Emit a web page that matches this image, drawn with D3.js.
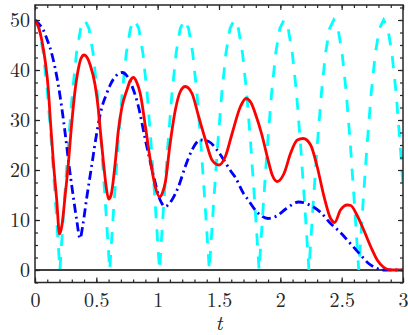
<!DOCTYPE html>
<html>
<head>
<meta charset="utf-8">
<script src="https://cdn.jsdelivr.net/npm/d3@7"></script>
<style>
  html, body { margin: 0; padding: 0; background: #ffffff; }
  svg { display: block; }
</style>
</head>
<body>
<svg id="chart" width="408" height="335"></svg>
<script>
// ---- data ----
const xMajorTicks = [0, 0.5, 1, 1.5, 2, 2.5, 3];
const xTickLabels = ["0", "0.5", "1", "1.5", "2", "2.5", "3"];
const yMajorTicks = [0, 10, 20, 30, 40, 50];
const yTickLabels = ["0", "10", "20", "30", "40", "50"];
const xLabel = "t";

// cyan dashed series
const cyanT = [0,0.034,0.068,0.102,0.135,0.169,0.203,0.237,0.271,0.305,0.338,0.372,
  0.406,0.440,0.474,0.508,0.541,0.575,0.609,0.643,0.677,0.711,0.744,0.778,
  0.812,0.846,0.880,0.914,0.947,0.981,1.015,1.049,1.083,1.117,1.150,1.184,
  1.218,1.252,1.286,1.320,1.353,1.387,1.421,1.455,1.489,1.523,1.556,1.590,
  1.624,1.658,1.692,1.726,1.759,1.793,1.827,1.861,1.895,1.929,1.962,1.996,
  2.030,2.064,2.098,2.132,2.165,2.199,2.233,2.267,2.301,2.335,2.368,2.402,
  2.436,2.470,2.504,2.538,2.571,2.605,2.639,2.673,2.707,2.741,2.774,2.808,
  2.842,2.876,2.910,2.944,2.977,3.0];
const cyanV = [50,48.3,43.3,35.36,25,12.94,0,12.94,25,35.36,43.3,48.3,
  50,48.3,43.3,35.36,25,12.94,0,12.94,25,35.36,43.3,48.3,
  50,48.3,43.3,35.36,25,12.94,0,12.94,25,35.36,43.3,48.3,
  50,48.3,43.3,35.36,25,12.94,0,12.94,25,35.36,43.3,48.3,
  50,48.3,43.3,35.36,25,12.94,0,12.94,25,35.36,43.3,48.3,
  50,48.3,43.3,35.36,25,12.94,0,12.94,25,35.36,43.3,48.3,
  50,48.3,43.3,35.36,25,12.94,0,12.94,25,35.36,43.3,48.3,
  50,48.3,43.3,35.36,25,17.1];

// blue dash-dot series
const blueT = [0,0.04,0.068,0.1,0.122,0.163,0.19,0.218,0.245,0.272,0.313,0.34,0.367,
  0.39,0.422,0.463,0.504,0.545,0.58,0.613,0.667,0.71,0.75,0.8,0.84,0.9,0.965,1.02,1.062,
  1.116,1.17,1.225,1.28,1.348,1.416,1.484,1.552,1.59,1.634,1.70,1.73,1.81,1.9,1.97,
  2.05,2.15,2.24,2.33,2.41,2.49,2.574,2.655,2.72,2.78,2.83,3.0];
const blueV = [50,49,48,46,44.5,40.5,37,32.5,27.5,22,14.5,10,6.3,
  9,14.5,21,27.5,32.5,35,37,39,39.5,38.8,36.2,33,26,19,14,12.7,
  14,16.7,20.7,24,26,25.7,24,21.5,20,18.5,15.3,14.3,11.6,10.3,10.8,
  12.3,13.6,13,11.5,9.3,7.5,5.2,3,1.3,0.4,0,0];

// red solid series
const redT = [0,0.03,0.055,0.082,0.109,0.125,0.15,0.177,0.2,0.22,0.245,0.272,0.291,0.3,
  0.327,0.354,0.375,0.4,0.425,0.45,0.49,0.517,0.53,0.558,0.58,0.6,0.62,0.652,0.68,0.708,
  0.749,0.775,0.803,0.83,0.858,0.9,0.94,0.98,1.016,1.04,1.062,1.1,1.144,1.185,1.225,
  1.28,1.334,1.39,1.443,1.5,1.552,1.607,1.675,1.72,1.76,1.8,1.85,1.893,1.934,1.975,
  2.03,2.083,2.138,2.187,2.247,2.3,2.356,2.41,2.443,2.49,2.546,2.575,2.62,2.68,2.74,
  2.79,2.84,2.88,2.92,3.0];
const redV = [50,48.5,46,42,36,30,21.5,14,7.2,9,14.7,21.3,27,29.5,
  36,40.3,42.3,43,42.5,41,37,32,28.5,21.5,16.7,14.2,15,21,28,32.5,
  36,37.8,38.5,37.5,35.3,28.7,22,16.7,14.6,15.5,17.5,25,32,35.7,36.7,
  35.3,30.7,26,22,21,22.7,27.3,32.7,34.3,33.5,31,27,22.7,19,17.7,
  19.3,23.3,26,26.3,25,20.7,14.7,10.3,9.5,12,13,12.9,11.2,8,4.5,
  2,0.6,0.1,0,0];

const zeroLineT = [0, 3];
const zeroLineV = [0, 0];

// ---- layout ----
const W = 408, H = 335;
const mLeft = 35, mRight = 403, mTop = 5, mBottom = 282.5;
const serifFont = '"Latin Modern Roman", "Liberation Serif", serif';

const x = d3.scaleLinear().domain([0, 3]).range([mLeft, mRight]);
const y = d3.scaleLinear().domain([-2.5, 53]).range([mBottom, mTop]);

const svg = d3.select("#chart");

svg.append("defs").append("clipPath").attr("id", "clip")
  .append("rect").attr("x", mLeft).attr("y", mTop)
  .attr("width", mRight - mLeft).attr("height", mBottom - mTop);

const plot = svg.append("g").attr("clip-path", "url(#clip)");

function series(ts, vs) { return ts.map((t, i) => [t, vs[i]]); }

const lineLin = d3.line().x(d => x(d[0])).y(d => y(d[1])).curve(d3.curveLinear);
const lineSmooth = d3.line().x(d => x(d[0])).y(d => y(d[1])).curve(d3.curveMonotoneX);

plot.append("path").datum(series(zeroLineT, zeroLineV))
  .attr("d", lineLin).attr("fill", "none").attr("stroke", "#000000").attr("stroke-width", 1.6);

plot.append("path").datum(series(cyanT, cyanV))
  .attr("d", lineLin).attr("fill", "none").attr("stroke", "#00ffff")
  .attr("stroke-width", 2.8).attr("stroke-dasharray", "12,11");

plot.append("path").datum(series(blueT, blueV))
  .attr("d", lineSmooth).attr("fill", "none").attr("stroke", "#0000ff")
  .attr("stroke-width", 2.8).attr("stroke-dasharray", "9,4,2,4");

plot.append("path").datum(series(redT, redV))
  .attr("d", lineSmooth).attr("fill", "none").attr("stroke", "#ff0000")
  .attr("stroke-width", 2.8);

// ---- axes ----
const axisColor = "#262626";
const xMinor = d3.range(0, 3.0001, 0.1).map(v => +v.toFixed(2));
const yMinor = d3.range(-2.5, 53.0001, 2.5).map(v => +v.toFixed(2));

function styleAxis(g) {
  g.select(".domain").remove();
  g.attr("font-family", null).attr("font-size", null);
  g.selectAll(".tick line").attr("stroke", axisColor).attr("stroke-width", 1.2);
  g.selectAll(".tick text").attr("fill", axisColor)
    .style("font-family", serifFont).style("font-size", "20px");
}

// bottom
svg.append("g").attr("transform", `translate(0,${mBottom})`)
  .call(d3.axisBottom(x).tickValues(xMinor).tickSize(-3).tickFormat(""))
  .call(styleAxis);
svg.append("g").attr("transform", `translate(0,${mBottom})`)
  .call(d3.axisBottom(x).tickValues(xMajorTicks).tickSize(-5).tickPadding(10)
    .tickFormat((d, i) => xTickLabels[i]))
  .call(styleAxis);
// top
svg.append("g").attr("transform", `translate(0,${mTop})`)
  .call(d3.axisTop(x).tickValues(xMinor).tickSize(-3).tickFormat(""))
  .call(styleAxis);
svg.append("g").attr("transform", `translate(0,${mTop})`)
  .call(d3.axisTop(x).tickValues(xMajorTicks).tickSize(-5).tickFormat(""))
  .call(styleAxis);
// left
svg.append("g").attr("transform", `translate(${mLeft},0)`)
  .call(d3.axisLeft(y).tickValues(yMinor).tickSize(-3).tickFormat(""))
  .call(styleAxis);
svg.append("g").attr("transform", `translate(${mLeft},0)`)
  .call(d3.axisLeft(y).tickValues(yMajorTicks).tickSize(-5).tickPadding(5)
    .tickFormat((d, i) => yTickLabels[i]))
  .call(styleAxis);
// right
svg.append("g").attr("transform", `translate(${mRight},0)`)
  .call(d3.axisRight(y).tickValues(yMinor).tickSize(-3).tickFormat(""))
  .call(styleAxis);
svg.append("g").attr("transform", `translate(${mRight},0)`)
  .call(d3.axisRight(y).tickValues(yMajorTicks).tickSize(-5).tickFormat(""))
  .call(styleAxis);

// frame
svg.append("rect").attr("x", mLeft).attr("y", mTop)
  .attr("width", mRight - mLeft).attr("height", mBottom - mTop)
  .attr("fill", "none").attr("stroke", axisColor).attr("stroke-width", 1.5);

// x label
svg.append("text").attr("x", (mLeft + mRight) / 2).attr("y", 330)
  .attr("text-anchor", "middle")
  .style("font-family", serifFont)
  .style("font-style", "italic").style("font-size", "21px").attr("fill", axisColor)
  .text(xLabel);
</script>
</body>
</html>
